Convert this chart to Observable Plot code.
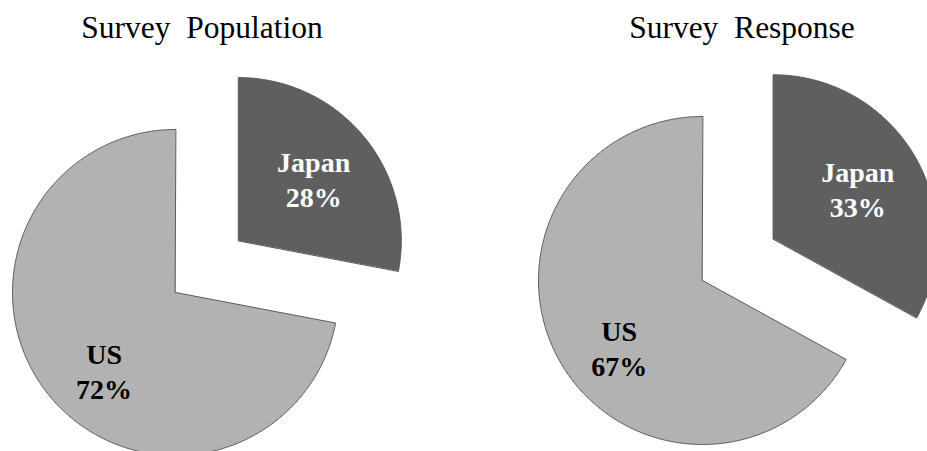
<!DOCTYPE html>
<html><head><meta charset="utf-8">
<script src="https://cdn.jsdelivr.net/npm/d3@7"></script>
<script src="https://cdn.jsdelivr.net/npm/@observablehq/plot@0.6"></script>
<style>
body{margin:0;background:#fff;}
#wrap{position:relative;width:927px;height:451px;overflow:hidden;font-family:"Liberation Serif","Times New Roman",serif;}
.title{position:absolute;top:12px;font-size:31.5px;line-height:31.5px;white-space:pre;text-align:center;width:400px;color:#000;}
.pie{position:absolute;top:0;}
.pie text{font-family:"Liberation Serif","Times New Roman",serif;}
</style></head><body><div id="wrap"></div>
<script>
// ---- data ----
const titles = ["Survey  Population", "Survey  Response"];
const categories = ["Japan", "US"];
const populationValues = [28, 72];
const responseValues = [33, 67];
const explodedCategory = "Japan";

// ---- styles / layout ----
const sliceColors = ["#5f5f5f", "#b2b2b2"];
const labelColors = ["#ffffff", "#000000"];
const explode = 0.5;      // in radius units
const labelRadius = [0.6, 0.65];
const labelAngleShift = [0, -8 * Math.PI / 180];

function piePlot(values, {cx, cy, r, w}) {
  const arcs = d3.pie().sort(null)(values);
  const polys = [];
  const labels = [];
  arcs.forEach((a, i) => {
    const cat = categories[i];
    const mid = (a.startAngle + a.endAngle) / 2;
    const off = cat === explodedCategory ? explode : 0;
    const ox = off * Math.sin(mid), oy = off * Math.cos(mid);
    const pts = [{x: ox, y: oy}];
    const n = Math.max(2, Math.ceil((a.endAngle - a.startAngle) / 0.01));
    for (let k = 0; k <= n; k++) {
      const t = a.startAngle + (a.endAngle - a.startAngle) * k / n;
      pts.push({x: ox + Math.sin(t), y: oy + Math.cos(t)});
    }
    polys.push(pts);
    const la = mid + labelAngleShift[i];
    labels.push({
      x: ox + labelRadius[i] * Math.sin(la),
      y: oy + labelRadius[i] * Math.cos(la),
      text: `${cat}\n${values[i]}%`
    });
  });
  const marks = [];
  polys.forEach((pts, i) => {
    marks.push(Plot.line(pts, {x: "x", y: "y", curve: "linear-closed", fill: sliceColors[i], stroke: "#595959", strokeWidth: 1}));
  });
  labels.forEach((l, i) => {
    marks.push(Plot.text([l], {x: "x", y: "y", text: "text", fill: labelColors[i], fontSize: 28, fontWeight: "bold", lineHeight: 1.25, lineAnchor: "middle"}));
  });
  return Plot.plot({
    width: w, height: 451, margin: 0,
    style: {background: "transparent", overflow: "visible", fontFamily: "'Liberation Serif', 'Times New Roman', serif"},
    x: {domain: [-1, 1], range: [cx - r, cx + r], axis: null},
    y: {domain: [-1, 1], range: [cy + r, cy - r], axis: null},
    marks
  });
}

const wrap = document.getElementById("wrap");
const configs = [
  {values: populationValues, left: 0, cx: 175, cy: 292, r: 163, w: 464, titleCenter: 202},
  {values: responseValues, left: 463, cx: 239, cy: 280, r: 164, w: 464, titleCenter: 742}
];
configs.forEach((c, j) => {
  const svg = piePlot(c.values, c);
  const holder = document.createElement("div");
  holder.className = "pie";
  holder.style.left = c.left + "px";
  holder.appendChild(svg);
  wrap.appendChild(holder);
  const t = document.createElement("div");
  t.className = "title";
  t.textContent = titles[j];
  t.style.left = (c.titleCenter - 200) + "px";
  wrap.appendChild(t);
});
</script>
</body></html>
